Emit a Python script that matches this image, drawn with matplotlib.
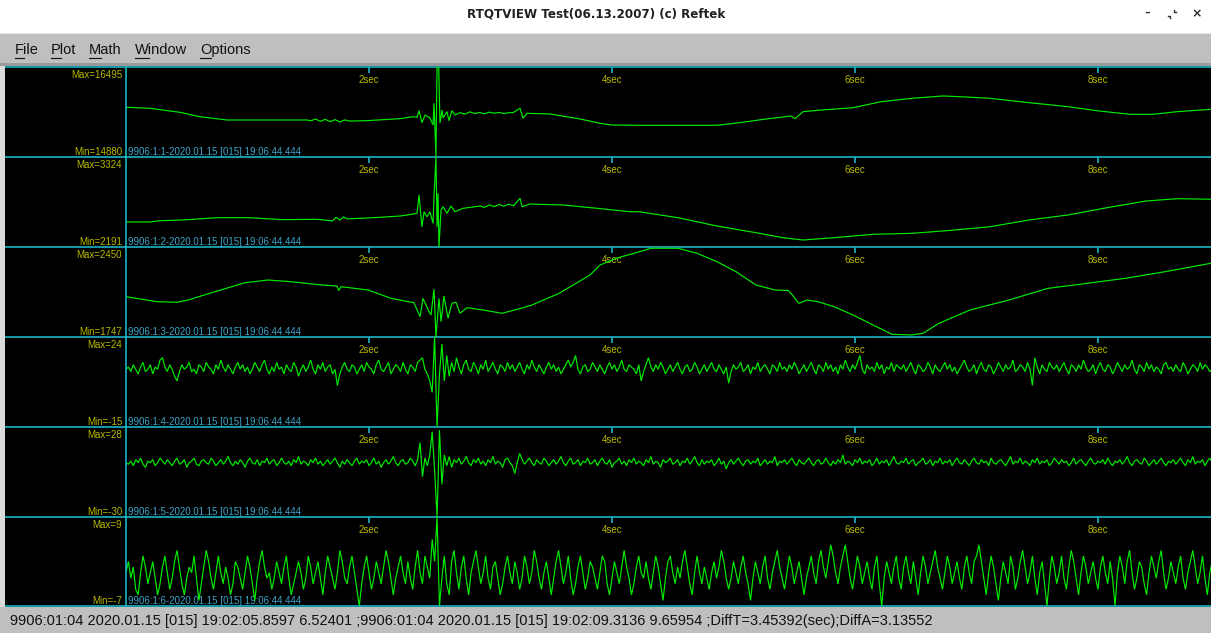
import matplotlib
matplotlib.use('Agg')
import matplotlib.pyplot as plt
from matplotlib.patches import Rectangle
import numpy as np

# ------------------------------------------------------------------ data
window_title = "RTQTVIEW Test(06.13.2007) (c) Reftek"
menu_items = ["File", "Plot", "Math", "Window", "Options"]
status_text = ("9906:01:04 2020.01.15 [015] 19:02:05.8597 6.52401 ;9906:01:04 2020.01.15 [015] "
               "19:02:09.3136 9.65954 ;DiffT=3.45392(sec);DiffA=3.13552")
channel_labels = ["9906:1:1-2020.01.15 [015] 19:06:44.444",
                  "9906:1:2-2020.01.15 [015] 19:06:44.444",
                  "9906:1:3-2020.01.15 [015] 19:06:44.444",
                  "9906:1:4-2020.01.15 [015] 19:06:44.444",
                  "9906:1:5-2020.01.15 [015] 19:06:44.444",
                  "9906:1:6-2020.01.15 [015] 19:06:44.444"]
max_values = [16495, 3324, 2450, 24, 28, 9]
min_values = [14880, 2191, 1747, -15, -30, -7]
tick_secs = [2, 4, 6, 8]
tick_labels = ["2sec", "4sec", "6sec", "8sec"]
t_span = 8.93          # seconds visible

# trace 1 (time s, counts)
t1 = [0.000, 0.198, 0.444, 0.609, 0.831, 1.160, 1.490, 1.52, 1.56, 1.60, 1.64, 1.68, 1.72, 1.76,
      1.80, 1.84, 1.984, 2.255, 2.362, 2.395, 2.412, 2.436, 2.461, 2.502, 2.527, 2.535, 2.551,
      2.560, 2.574, 2.584, 2.601, 2.609, 2.642, 2.658, 2.683, 2.708, 2.749, 2.79, 2.83, 2.87,
      2.91, 2.95, 2.99, 3.03, 3.07, 3.11, 3.15, 3.185, 3.243, 3.267, 3.300, 3.490, 3.737, 3.901,
      4.000, 4.222, 4.560, 4.864, 5.053, 5.251, 5.407, 5.473, 5.506, 5.572, 5.695, 5.984, 6.214,
      6.469, 6.724, 6.914, 7.111, 7.432, 7.753, 8.008, 8.263, 8.453, 8.650, 8.930]
v1 = [15772, 15754, 15682, 15603, 15544, 15544, 15544, 15530, 15560, 15520, 15555, 15515, 15550,
      15510, 15545, 15525, 15532, 15568, 15603, 15593, 15711, 15496, 15634, 15580, 15454, 15844,
      14890, 16495, 16480, 15490, 15724, 15580, 15693, 15532, 15711, 15634, 15675, 15650, 15690,
      15660, 15680, 15655, 15685, 15665, 15680, 15660, 15675, 15675, 15754, 15575, 15664, 15652,
      15562, 15485, 15454, 15449, 15449, 15449, 15496, 15557, 15598, 15616, 15568, 15693, 15718,
      15765, 15872, 15933, 15975, 15957, 15933, 15855, 15783, 15706, 15646, 15646, 15693, 15736]

# trace 2
t2 = [0.000, 0.198, 0.280, 0.469, 0.749, 1.021, 1.292, 1.572, 1.70, 1.73, 1.76, 1.79, 1.82,
      1.984, 2.091, 2.255, 2.313, 2.362, 2.395, 2.412, 2.428, 2.436, 2.453, 2.477, 2.502, 2.527,
      2.535, 2.551, 2.560, 2.568, 2.576, 2.593, 2.609, 2.642, 2.675, 2.708, 2.774, 2.914, 2.95,
      2.99, 3.03, 3.07, 3.11, 3.15, 3.19, 3.243, 3.26, 3.325, 3.597, 3.877, 4.148, 4.222, 4.543,
      4.864, 5.185, 5.407, 5.572, 5.827, 6.148, 6.469, 6.790, 7.111, 7.432, 7.753, 8.074, 8.395,
      8.650, 8.930]
v2 = [2506, 2506, 2522, 2531, 2560, 2560, 2535, 2540, 2520, 2565, 2530, 2570, 2545, 2556, 2565,
      2581, 2594, 2606, 2615, 2846, 2572, 2446, 2635, 2572, 2635, 2489, 2824, 3324, 2446, 2867,
      2191, 2657, 2698, 2615, 2707, 2635, 2678, 2707, 2690, 2720, 2700, 2725, 2705, 2730, 2710,
      2804, 2698, 2732, 2720, 2678, 2635, 2635, 2560, 2455, 2371, 2308, 2279, 2308, 2351, 2363,
      2401, 2446, 2531, 2594, 2686, 2770, 2799, 2792]

# trace 3
t3 = [0.000, 0.255, 0.420, 0.510, 0.733, 0.979, 1.169, 1.358, 1.613, 1.737, 1.75, 1.77, 1.992,
      2.181, 2.370, 2.420, 2.444, 2.494, 2.510, 2.535, 2.551, 2.576, 2.593, 2.617, 2.650, 2.683,
      2.716, 2.749, 2.807, 2.938, 3.095, 3.251, 3.342, 3.564, 3.819, 3.901, 4.041, 4.198, 4.321,
      4.543, 4.700, 4.864, 5.021, 5.185, 5.342, 5.45, 5.473, 5.539, 5.605, 5.695, 5.827, 5.984,
      6.148, 6.305, 6.469, 6.560, 6.691, 6.947, 7.267, 7.588, 7.909, 8.230, 8.551, 8.930]
v3 = [2062, 2023, 2018, 2036, 2101, 2171, 2192, 2179, 2153, 2145, 2110, 2140, 2114, 2049, 2015,
      1906, 2049, 1945, 1919, 2120, 1747, 2049, 1867, 2067, 1893, 2010, 2018, 1932, 1976, 1958,
      1932, 1971, 1997, 2088, 2231, 2309, 2364, 2405, 2440, 2440, 2401, 2335, 2257, 2153, 2114,
      2110, 2088, 2010, 2036, 2023, 1984, 1919, 1841, 1768, 1763, 1776, 1854, 1958, 2036, 2127,
      2166, 2206, 2257, 2323]

# noisy traces, one sample every 0.02 s
sample_dt = 0.02
v4 = [10, 11, 9, 12, 10, 8, 11, 13, 9, 10, 12, 8, 11, 10, 14, 15,
      11, 9, 12, 10, 7, 5, 9, 12, 10, 11, 13, 9, 10, 8, 12, 11,
      9, 13, 11, 10, 8, 12, 10, 14, 11, 9, 12, 10, 8, 11, 13, 10,
      12, 9, 11, 8, 10, 13, 11, 9, 12, 14, 10, 8, 11, 9, 13, 10,
      11, 8, 12, 10, 9, 13, 11, 7, 10, 12, 9, 11, 14, 10, 8, 12,
      10, 13, 9, 11, 12, 8, 10, 3, 8, 11, 13, 10, 9, 12, 11, 8,
      10, 12, 9, 13, 11, 10, 8, 12, 14, 10, 9, 11, 13, 8, 10, 12,
      11, 9, 13, 10, 8, 12, 11, 9, 13, 14, 15, 10, 8, 5, 0, 24,
      -15, 8, 21, 5, 16, 7, 13, 9, 15, 11, 8, 12, 14, 10, 9, 13,
      11, 8, 12, 10, 14, 9, 11, 13, 10, 8, 12, 11, 9, 13, 10, 12,
      9, 11, 13, 10, 8, 12, 10, 14, 11, 9, 12, 10, 8, 11, 13, 10,
      12, 9, 11, 8, 10, 12, 14, 11, 13, 16, 10, 8, 11, 12, 9, 10,
      13, 11, 9, 12, 10, 8, 11, 13, 10, 12, 9, 11, 14, 10, 9, 12,
      11, 10, 8, 12, 5, 9, 12, 15, 11, 9, 12, 10, 13, 11, 8, 10,
      12, 9, 11, 13, 10, 8, 11, 12, 9, 10, 13, 11, 8, 10, 12, 9,
      11, 13, 10, 9, 12, 10, 8, 11, 4, 9, 12, 10, 11, 13, 9, 10,
      12, 8, 11, 10, 13, 9, 11, 12, 10, 8, 12, 11, 9, 13, 10, 11,
      9, 12, 10, 13, 11, 8, 10, 12, 9, 11, 13, 10, 8, 12, 11, 9,
      13, 10, 12, 9, 11, 8, 12, 10, 14, 11, 9, 12, 10, 13, 16, 10,
      8, 12, 10, 11, 9, 13, 10, 12, 8, 11, 10, 13, 9, 12, 11, 10,
      12, 9, 11, 13, 10, 8, 12, 11, 9, 10, 13, 11, 8, 12, 10, 9,
      11, 13, 10, 12, 9, 11, 8, 10, 12, 14, 11, 9, 10, 12, 8, 11,
      13, 10, 9, 12, 11, 8, 10, 13, 11, 9, 12, 10, 11, 14, 9, 10,
      12, 11, 9, 13, 10, 3, 15, 11, 8, 12, 10, 9, 13, 11, 10, 12,
      9, 11, 13, 10, 8, 12, 11, 9, 12, 10, 14, 11, 9, 10, 12, 8,
      11, 13, 10, 9, 12, 11, 8, 10, 13, 11, 9, 12, 10, 11, 14, 10,
      8, 12, 11, 9, 13, 10, 12, 9, 11, 10, 8, 12, 13, 10, 11, 9,
      12, 10, 9, 13, 11, 8, 10, 12, 11, 9, 13, 10, 12, 11, 9, 10]
v5 = [5, 4, 6, 3, 7, 5, 8, 4, 2, 6, 5, 7, 3, 5, 8, 6,
      4, 7, 5, 3, 6, 8, 4, 5, 7, 2, 5, 6, 8, 4, 3, 6,
      7, 5, 4, 8, 6, 3, 5, 7, 4, 6, 9, 5, 3, 6, 4, 7,
      5, 2, 6, 8, 5, 4, 7, 3, 6, 5, 8, 4, 6, 7, 3, 5,
      8, 5, 4, 6, 3, 7, 5, 9, 4, 6, 5, 3, 7, 5, 8, 4,
      6, 3, 5, 7, 4, 6, 8, 5, 2, 6, 4, 7, 5, 3, 6, 8,
      4, 6, 5, 7, 3, 5, 8, 4, 6, 2, 5, 7, 4, 6, 9, 5,
      3, 6, 7, 4, 5, 8, 6, 3, 7, 18, -4, 8, 3, 10, 25, 0,
      -30, 26, -9, 10, 3, 9, 2, 7, 5, 8, 4, 6, 9, 5, 3, 7,
      5, 8, 4, 6, 3, 7, 5, 9, 4, 6, 5, 2, 7, 8, 5, 3,
      -2, 5, 11, 7, 4, 6, 8, 5, 3, 7, 5, 4, 8, 6, 3, 5,
      7, 4, 6, 9, 5, 3, 6, 8, 4, 5, 7, 3, 6, 5, 8, 4,
      5, 7, 3, 6, 8, 5, 4, 7, 2, 5, 6, 8, 4, 6, 3, 7,
      5, 8, 4, 6, 5, 3, 7, 5, 9, 4, 6, 5, 2, 7, 5, 6,
      8, 4, 5, 7, 3, 6, 5, 8, 4, 6, 9, 5, 3, 7, 4, 6,
      5, 7, 3, 5, 8, 4, 6, 1, 5, 7, 4, 6, 8, 5, 3, 6,
      7, 4, 6, 5, 8, 3, 5, 7, 4, 6, 5, 9, 3, 6, 5, 7,
      4, 6, 8, 5, 3, 7, 5, 4, 6, 8, 5, 3, 6, 7, 4, 5,
      8, 5, 3, 6, 4, 7, 5, 10, 4, 6, 5, 3, 7, 5, 8, 4,
      6, 5, 7, 3, 5, 8, 4, 6, 5, 7, 3, 6, 9, 5, 4, 6,
      5, 8, 4, 6, 7, 3, 5, 6, 8, 4, 5, 7, 3, 6, 5, 8,
      4, 6, 5, 7, 3, 6, 8, 5, 4, 7, 5, 3, 6, 8, 5, 4,
      7, 5, 6, 3, 8, 5, 4, 6, 7, 5, 3, 6, 9, 4, 6, 5,
      8, 4, 6, 5, 3, 7, 5, 8, 4, 6, 5, 7, 3, 5, 8, 6,
      4, 7, 5, 6, 3, 5, 8, 4, 6, 7, 5, 3, 6, 8, 5, 4,
      6, 5, 7, 4, 8, 5, 3, 6, 5, 7, 4, 6, 9, 5, 3, 6,
      7, 5, 4, 8, 6, 3, 5, 7, 4, 6, 8, 5, 3, 6, 5, 7,
      4, 6, 8, 5, 3, 7, 5, 9, 4, 6, 5, 7, 3, 6, 8, 5]
v6 = [-1, 1, -2, 0, -4, -5, -1, 2, 0, -3, -1, 1, -2, -5, -3, 0,
      2, -1, -4, -2, 1, 3, 0, -3, -5, -2, 0, -1, 2, -2, -6, -3,
      0, 3, 1, -2, -4, -1, 2, -1, -3, 0, -2, -5, -3, 1, 0, -2,
      -4, -1, 2, 0, -3, -6, -2, 1, 3, 0, -2, -1, -4, -2, 1, -1,
      -3, 0, 2, -2, -5, -3, -1, 1, -1, -4, -2, 2, 0, -3, -1, 1,
      -2, -5, -1, 2, 0, -2, -4, -1, 3, 1, -2, -3, 0, 2, -1, -4,
      -7, -3, 0, 2, -1, -4, -2, 1, -1, -3, 0, 3, 1, -2, -5, -2,
      0, 2, -1, -3, 1, -2, -4, 0, 3, -1, -3, 2, 0, -2, 5, 1,
      9, -7, -2, 2, -3, -5, 1, 3, -1, -4, 0, 2, -2, -5, -1, 1,
      3, 0, -3, -1, 2, -2, -4, 0, 1, -2, -5, -3, 0, 2, -1, -3,
      1, -1, -4, -2, 2, 0, -3, -1, 3, 1, -2, -4, -1, 1, -2, -5,
      -2, 1, 3, 0, -3, -1, 2, -2, -5, -3, 0, 2, -1, -4, -2, 1,
      0, -2, -4, -1, 2, 1, -3, -5, -2, 1, -1, -3, 0, 3, 0, -2,
      -5, -3, 0, 2, -1, -2, 1, -2, -4, -1, 2, 0, -3, -6, -2, 1,
      2, -1, -3, 0, -2, 1, 3, 0, -3, -5, -1, 2, -1, -3, 0, -2,
      -4, -1, 1, -2, 0, 3, 1, -2, -4, -2, 1, -1, -3, 0, 2, -1,
      -3, -6, -2, 1, -1, -3, 0, 2, -2, -4, -1, 1, 3, 0, -2, -4,
      -1, 2, 0, -3, -1, 1, -2, -5, -2, 0, 2, -1, -3, 1, 3, 0,
      -2, 1, 4, 2, -1, -3, 0, 2, 4, 1, -2, -4, -1, 2, 0, -3,
      -1, 1, -2, -4, 0, 2, -3, -7, -2, 1, -1, -3, 0, 2, -2, -4,
      0, 2, -1, -3, 1, -2, -5, -1, 2, 0, -3, -1, 1, 3, 0, -2,
      -4, -1, 2, 0, -3, -1, 1, -2, -4, 0, 2, -1, -3, 1, 2, 4,
      1, -2, -5, -1, 2, 0, -3, -6, -2, 1, -1, -3, 2, 0, -4, -2,
      1, 3, 0, -3, -1, 2, -2, -5, -1, 1, -3, -7, -2, 2, 0, -3,
      -1, 2, -2, -4, 0, 3, 1, -2, -5, -1, 2, 0, -3, -1, 1, -2,
      -4, 0, 2, -1, -3, 1, -2, -7, -1, 2, 0, -3, 1, 3, -1, -4,
      -2, 1, 0, -3, -5, -1, 2, 0, -2, 1, 3, -1, -4, -2, 1, -1,
      -3, 0, 2, -2, -4, -1, 1, 3, 0, -3, -1, 2, -2, -5, -1, 1]

# ------------------------------------------------------------------ style / layout
W, H = 1211, 633
CYAN = '#1cb4c6'
OLIVE = '#b8b800'
CHAN = '#3ea4c8'
GREEN = '#00ec00'
MENU_GRAY = '#bfbfbf'
PLOT_X0 = 126
panel_tops = [67, 157, 247, 337, 427, 517]
panel_bottoms = [157, 247, 337, 427, 517, 606]
LABEL_FONT = 'Liberation Sans'

fig = plt.figure(figsize=(W / 100, H / 100), dpi=100)
fig.patch.set_facecolor('white')

bg = fig.add_axes([0, 0, 1, 1])
bg.set_xlim(0, W)
bg.set_ylim(H, 0)
bg.axis('off')

# title bar
bg.text(596, 14, window_title, ha='center', va='center', fontsize=8.6,
        fontweight='bold', family='DejaVu Sans', color='#202020')
bg.text(1147, 13, '–', ha='center', va='center', fontsize=8, fontweight='bold', color='#303030')
bg.plot([1168, 1170, 1170], [16, 16, 18], color='#303030', lw=1)
bg.plot([1174, 1174, 1176], [10, 12, 12], color='#303030', lw=1)
bg.text(1197, 14, '×', ha='center', va='center', fontsize=9, fontweight='bold', color='#303030')

# menu bar
bg.add_patch(Rectangle((0, 33), W, 31, facecolor=MENU_GRAY, edgecolor='none'))
bg.add_patch(Rectangle((0, 33), W, 1, facecolor='#e6e6e6', edgecolor='none'))
bg.add_patch(Rectangle((0, 63), W, 3, facecolor='#9a9a9a', edgecolor='none'))
menu_x = [15, 51, 89, 135, 200]
fig.canvas.draw()
renderer = fig.canvas.get_renderer()
inv = bg.transData.inverted()
for word, mx in zip(menu_items, menu_x):
    probe = bg.text(mx, 50, word[0], ha='left', va='center', fontsize=10.5, family=LABEL_FONT)
    bb = probe.get_window_extent(renderer)
    probe.remove()
    (x0, _), (x1, _) = inv.transform([[bb.x0, bb.y0], [bb.x1, bb.y1]])
    bg.plot([x0, x1], [57.5, 57.5], color='#111111', lw=0.8)
    bg.text(mx, 50, word, ha='left', va='center', fontsize=10.5,
            family=LABEL_FONT, color='#111111')

# panel area background
bg.add_patch(Rectangle((0, 66), 5, 541, facecolor='#d9d9d9', edgecolor='none'))
bg.add_patch(Rectangle((5, 66), W - 5, 541, facecolor='black', edgecolor='none'))

# status bar
bg.add_patch(Rectangle((0, 607), W, H - 607, facecolor=MENU_GRAY, edgecolor='none'))
bg.text(10, 621, status_text, ha='left', va='center', fontsize=10.55,
        family=LABEL_FONT, color='#111111')

traces = [(t1, v1), (t2, v2), (t3, v3),
          (np.arange(len(v4)) * sample_dt, v4),
          (np.arange(len(v5)) * sample_dt, v5),
          (np.arange(len(v6)) * sample_dt, v6)]

for i, (tt, vv) in enumerate(traces):
    top, bot = panel_tops[i], panel_bottoms[i]
    ax = fig.add_axes([PLOT_X0 / W, 1 - bot / H, (W - PLOT_X0) / W, (bot - top) / H])
    ax.set_facecolor('none')
    ax.plot(tt, vv, color=GREEN, lw=0.85, solid_joinstyle='miter')
    ax.set_xlim(0, t_span)
    ax.set_ylim(min_values[i], max_values[i])
    ax.set_yticks([])
    ax.set_xticks(tick_secs)
    ax.set_xticklabels(tick_labels)
    ax.tick_params(axis='x', top=True, bottom=False, labeltop=True, labelbottom=False,
                   direction='in', length=4, width=1.2, color=CYAN, pad=-13,
                   labelcolor=OLIVE, labelsize=7)
    for lab in ax.get_xticklabels():
        lab.set_family(LABEL_FONT)
    for side in ['top', 'bottom', 'right']:
        ax.spines[side].set_visible(False)
    ax.spines['left'].set_color(CYAN)
    ax.spines['left'].set_linewidth(1.2)

    # side labels
    bg.text(122, top + 8, f"Max={max_values[i]}", ha='right', va='center', fontsize=7,
            family=LABEL_FONT, color=OLIVE)
    bg.text(122, bot - 5, f"Min={min_values[i]}", ha='right', va='center', fontsize=7,
            family=LABEL_FONT, color=OLIVE)
    bg.text(128, bot - 5, channel_labels[i], ha='left', va='center', fontsize=7,
            family=LABEL_FONT, color=CHAN, zorder=5)

# horizontal borders
for yb in [67, 157, 247, 337, 427, 517, 606]:
    bg.plot([5, W], [yb, yb], color=CYAN, lw=1.2, solid_capstyle='butt')

fig.savefig('out.png', dpi=100, facecolor=fig.get_facecolor())
